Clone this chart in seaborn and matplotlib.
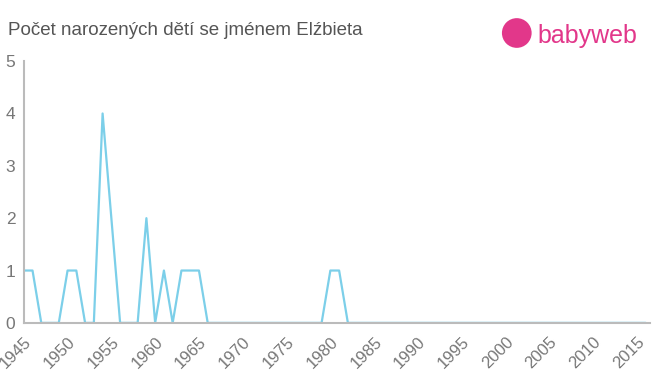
import matplotlib
matplotlib.use("Agg")
import matplotlib.pyplot as plt
import seaborn as sns
import pandas as pd
from matplotlib.patches import Ellipse

years = list(range(1945, 2017))
nonzero = {1945: 1, 1946: 1, 1950: 1, 1951: 1, 1954: 4, 1955: 2, 1959: 2,
           1961: 1, 1963: 1, 1964: 1, 1965: 1, 1980: 1, 1981: 1}
counts = [nonzero.get(y, 0) for y in years]
xticks = list(range(1945, 2016, 5))
yticks = [0, 1, 2, 3, 4, 5]
title = "Počet narozených dětí se jménem Elźbieta"

df = pd.DataFrame({"year": years, "count": counts})

sns.set_style("white")
plt.rcParams['font.family'] = ['Liberation Sans', 'DejaVu Sans']

fig = plt.figure(figsize=(6.6, 3.75), dpi=100)
ax = fig.add_axes([0.036, 0.139, 0.949, 0.698])
sns.lineplot(data=df, x="year", y="count", ax=ax, color="#7ccfe9", linewidth=1.6)

ax.set_xlim(1945, 2016.5)
ax.set_ylim(0, 5)
ax.set_xticks(xticks)
ax.set_xticklabels([str(t) for t in xticks], rotation=45, ha="right",
                   rotation_mode="anchor")
ax.set_yticks(yticks)
ax.set_xlabel("")
ax.set_ylabel("")
for s in ["top", "right"]:
    ax.spines[s].set_visible(False)
for s in ["left", "bottom"]:
    ax.spines[s].set_color("#bbbbbb")
    ax.spines[s].set_linewidth(1.5)
ax.tick_params(axis="both", colors="#bbbbbb", labelcolor="#777777",
               labelsize=12, length=5, width=1.2, direction="out")
ax.tick_params(axis="y", length=5, pad=1, labelsize=12.5)
ax.tick_params(axis="x", pad=3)
ax.grid(False)

fig.text(0.012, 0.918, title, fontsize=13.5, color="#555555", va="center")

# logo
w = 0.045
fig.patches.append(Ellipse((0.783, 0.912), w, w * 660 / 375, transform=fig.transFigure,
                           facecolor="#e2378a", edgecolor="none"))
fig.text(0.815, 0.905, "babyweb", fontsize=18, color="#e2378a", va="center")

fig.savefig("out.png", dpi=100)
